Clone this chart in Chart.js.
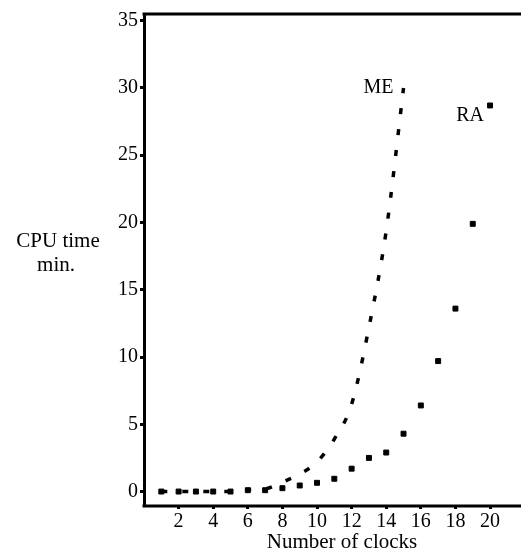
<!DOCTYPE html>
<html>
<head>
<meta charset="utf-8">
<script src="https://cdn.jsdelivr.net/npm/chart.js@4.4.1/dist/chart.umd.min.js"></script>
<style>
  html, body { margin: 0; padding: 0; background: #fff; }
  #wrap { width: 521px; height: 559px; }
</style>
</head>
<body>
<div id="wrap"><canvas id="cpuChart"></canvas></div>
<script>
// values
const clocks = [1, 2, 3, 4, 5, 6, 7, 8, 9, 10, 11, 12, 13, 14, 15, 16, 17, 18, 19, 20];
const meTime = [0, 0, 0, 0, 0, 0.15, 0.2, 0.7, 1.3, 2.2, 3.9, 6.5, 12.2, 19.4, 30];
const raTime = [0, 0, 0, 0, 0, 0.1, 0.1, 0.25, 0.45, 0.65, 0.95, 1.7, 2.5, 2.9, 4.3, 6.4, 9.7, 13.6, 19.9, 28.7];
const yTicks = [0, 5, 10, 15, 20, 25, 30, 35];
const xTicks = [2, 4, 6, 8, 10, 12, 14, 16, 18, 20];

const serif = "'Liberation Serif', 'DejaVu Serif', serif";

const mePoints = meTime.map((v, i) => ({ x: clocks[i], y: v }));
const raPoints = raTime.map((v, i) => ({ x: clocks[i], y: v }));

// frame lines (top and bottom run to the picture edge), curve labels, axis titles
const extras = {
  id: "extras",
  afterDraw(chart) {
    const { ctx, chartArea } = chart;
    ctx.save();
    ctx.strokeStyle = "#000";
    ctx.lineWidth = 3;
    ctx.beginPath();
    ctx.moveTo(chartArea.left - 1.5, chartArea.top);
    ctx.lineTo(chart.width, chartArea.top);
    ctx.moveTo(chartArea.left - 1.5, chartArea.bottom + 1);
    ctx.lineTo(chart.width, chartArea.bottom + 1);
    ctx.stroke();

    ctx.fillStyle = "#000";
    ctx.font = "20px " + serif;
    ctx.textAlign = "right";
    ctx.textBaseline = "middle";
    const me = chart.getDatasetMeta(0).data[meTime.length - 1];
    ctx.fillText("ME", me.x - 10, me.y);
    const ra = chart.getDatasetMeta(1).data[raTime.length - 1];
    ctx.fillText("RA", ra.x - 6, ra.y + 10);

    ctx.font = "21px " + serif;
    ctx.textAlign = "center";
    ctx.fillText("CPU time", 58, 241);
    ctx.fillText("min.", 56, 265);
    ctx.fillText("Number of clocks", 342, 542);
    ctx.restore();
  }
};

const ctx = document.getElementById("cpuChart").getContext("2d");
new Chart(ctx, {
  type: "scatter",
  data: {
    datasets: [
      {
        label: "ME",
        data: mePoints,
        showLine: true,
        borderColor: "#000",
        borderWidth: 3.5,
        borderDash: [6, 15],
        cubicInterpolationMode: "monotone",
        pointRadius: 0,
      },
      {
        label: "RA",
        data: raPoints,
        showLine: false,
        pointStyle: "rect",
        pointRadius: 3.5,
        pointBorderWidth: 1,
        backgroundColor: "#000",
        borderColor: "#000",
      },
    ],
  },
  options: {
    responsive: true,
    maintainAspectRatio: false,
    animation: false,
    layout: { padding: { top: 12, right: 0, left: 0, bottom: 0 } },
    plugins: {
      legend: { display: false },
      tooltip: { enabled: false },
    },
    scales: {
      x: {
        type: "linear",
        min: 0,
        max: 21.5,
        afterFit: (s) => { s.height = 54; },
        afterBuildTicks: (s) => { s.ticks = xTicks.map((v) => ({ value: v })); },
        ticks: {
          color: "#000",
          font: { family: serif, size: 20 },
          padding: 1,
          maxRotation: 0,
        },
        grid: { display: true, drawOnChartArea: false, tickLength: 4, tickWidth: 3, color: "#000" },
        border: { display: false },
      },
      y: {
        min: -1,
        max: 35.5,
        afterFit: (s) => { s.width = 144; },
        afterBuildTicks: (s) => { s.ticks = yTicks.map((v) => ({ value: v })); },
        ticks: {
          color: "#000",
          font: { family: serif, size: 20 },
          padding: 2,
        },
        grid: { display: true, drawOnChartArea: false, tickLength: 4, tickWidth: 3, color: "#000" },
        border: { color: "#000", width: 3 },
      },
    },
  },
  plugins: [extras],
});
</script>
</body>
</html>
